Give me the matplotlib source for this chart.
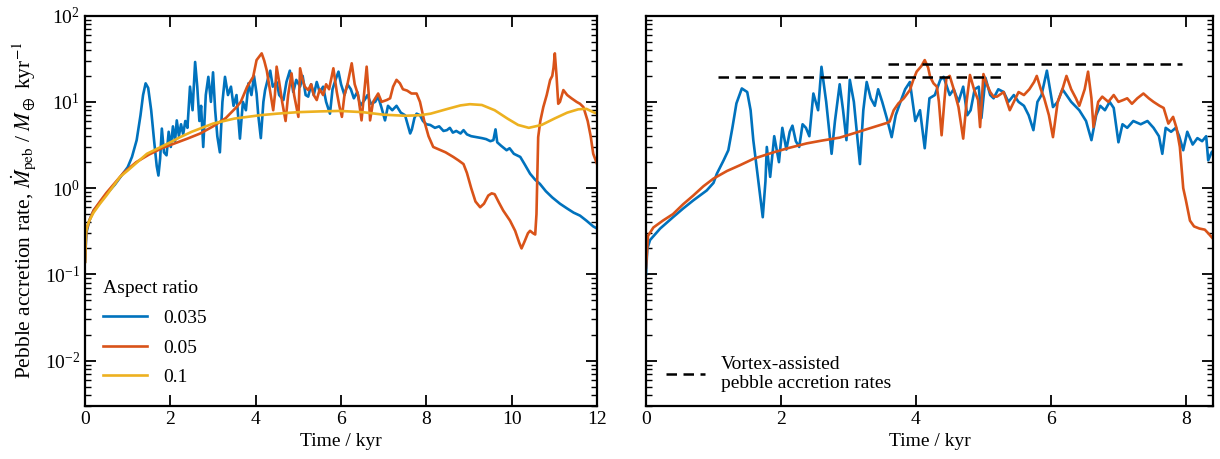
import numpy as np
import matplotlib
matplotlib.use("Agg")
import matplotlib.pyplot as plt
from matplotlib.ticker import LogLocator, NullLocator, NullFormatter

plt.rcParams['font.family'] = ['Liberation Serif', 'DejaVu Serif']
plt.rcParams['mathtext.fontset'] = 'stix'
plt.rcParams['font.size'] = 14

BLUE = "#0072BD"
ORANGE = "#D95319"
YELLOW = "#EDB120"

# ---- left panel: different aspect ratios ----
t_a035 = [0.0, 0.03, 0.1, 0.2, 0.35, 0.5, 0.7, 0.9, 1.0, 1.1, 1.21, 1.3, 1.36, 1.42, 1.48, 1.55,
          1.62, 1.68, 1.72, 1.76, 1.80, 1.85, 1.91, 1.96, 2.01, 2.06, 2.11, 2.15, 2.2, 2.25, 2.3,
          2.35, 2.4, 2.46, 2.52, 2.58, 2.63, 2.68, 2.72, 2.77, 2.83, 2.89, 2.95, 3.0, 3.05, 3.1,
          3.16, 3.22, 3.28, 3.35, 3.42, 3.48, 3.55, 3.63, 3.7, 3.77, 3.83, 3.9, 3.96, 4.02, 4.06,
          4.12, 4.18, 4.22, 4.28, 4.34, 4.4, 4.49, 4.55, 4.65, 4.72, 4.8, 4.88, 4.95, 5.04, 5.1,
          5.17, 5.23, 5.3, 5.36, 5.43, 5.5, 5.58, 5.65, 5.74, 5.8, 5.87, 5.94, 6.0, 6.08, 6.15,
          6.23, 6.3, 6.38, 6.45, 6.55, 6.62, 6.7, 6.8, 6.87, 6.95, 7.03, 7.1, 7.2, 7.3, 7.4, 7.5,
          7.56, 7.62, 7.66, 7.72, 7.77, 7.85, 7.92, 8.0, 8.09, 8.2, 8.3, 8.4, 8.48, 8.55, 8.62,
          8.7, 8.8, 8.87, 8.95, 9.05, 9.18, 9.3, 9.4, 9.5, 9.57, 9.62, 9.66, 9.75, 9.88, 9.95,
          10.05, 10.2, 10.3, 10.43, 10.55, 10.66, 10.8, 10.95, 11.13, 11.3, 11.45, 11.6, 11.75,
          11.91, 12.0]
m_a035 = [0.14, 0.3, 0.42, 0.55, 0.68, 0.85, 1.1, 1.5, 1.75, 2.3, 3.6, 7.0, 12, 16.4, 14.5, 8,
          3.5, 1.8, 1.4, 2.2, 4.9, 2.6, 2.4, 4.5, 3.0, 5.2, 3.5, 6.1, 4.0, 5.5, 4.2,
          6.0, 5.0, 15, 8, 29, 15, 6, 9, 3.0, 12, 19.5, 10, 22, 8, 4,
          2.6, 10, 19.5, 12, 15, 9, 12, 3.75, 10, 8, 16.4, 12, 20, 12.5, 7,
          3.8, 10, 13.7, 18, 23, 15, 17, 12, 10.5, 17, 23, 13, 18, 15, 20,
          12, 11.5, 16, 12, 17, 13, 15, 10, 7.3, 14, 18, 22.4, 16, 12, 16,
          14, 11, 13, 9, 10.5, 12, 9.5, 10, 11.5, 8.5, 6.1, 9, 8, 9, 7.5, 7,
          5.5, 4.3, 4.8, 6.5, 7.3, 7.0, 6.0, 5.5, 5.4, 5.0, 5.2, 4.6, 4.7, 5.0, 4.4,
          4.6, 4.3, 4.7, 4.2, 4.0, 3.9, 3.8, 3.7, 3.5, 3.6, 4.8, 3.4, 3.1, 2.75, 2.9,
          2.5, 2.3, 1.9, 1.47, 1.25, 1.12, 0.92, 0.78, 0.66, 0.58, 0.52, 0.48, 0.42,
          0.36, 0.34]

t_a05 = [0.0, 0.03, 0.1, 0.2, 0.35, 0.5, 0.7, 0.9, 1.2, 1.5, 1.8, 2.1, 2.4, 2.7, 3.0, 3.3, 3.55,
         3.65, 3.8, 3.94, 4.02, 4.14, 4.2, 4.26, 4.33, 4.41, 4.45, 4.49, 4.55, 4.62, 4.7, 4.76,
         4.84, 4.9, 5.0, 5.04, 5.1, 5.15, 5.23, 5.3, 5.36, 5.43, 5.5, 5.58, 5.65, 5.72, 5.82,
         5.9, 5.96, 6.02, 6.08, 6.15, 6.25, 6.32, 6.4, 6.48, 6.55, 6.6, 6.65, 6.68, 6.75, 6.87,
         6.95, 7.07, 7.15, 7.22, 7.3, 7.38, 7.45, 7.55, 7.65, 7.77, 7.85, 7.95, 8.05, 8.16, 8.3,
         8.45, 8.63, 8.75, 8.87, 8.95, 9.05, 9.15, 9.26, 9.35, 9.45, 9.53, 9.6, 9.7, 9.8, 9.96,
         10.08, 10.18, 10.23, 10.3, 10.38, 10.43, 10.5, 10.55, 10.58, 10.62, 10.67, 10.74,
         10.82, 10.9, 10.95, 10.98, 11.01, 11.05, 11.09, 11.13, 11.21, 11.3, 11.4, 11.52, 11.6,
         11.68, 11.78, 11.85, 11.91, 12.0]
m_a05 = [0.14, 0.32, 0.42, 0.55, 0.7, 0.88, 1.15, 1.5, 2.0, 2.45, 2.9, 3.3, 3.75, 4.3, 5.2, 6.5, 8.7,
         10, 15, 19.5, 30.5, 36.5, 30, 23, 14, 8.0, 12, 25.6, 17, 10, 6.0, 12,
         21.4, 12, 6.7, 24.5, 18, 15, 13.7, 16, 12, 10.5, 14, 12, 16, 14, 24.5,
         13, 9, 6.7, 12, 16, 28, 16, 12, 6.1, 14, 25.6, 12, 6.1, 10, 12.5,
         10, 10.5, 11, 15, 18, 16.4, 14, 13.5, 12.5, 12.5, 10, 6, 4, 3.0, 2.8,
         2.6, 2.3, 2.1, 1.9, 1.5, 1.0, 0.7, 0.6, 0.66, 0.82, 0.87, 0.85, 0.68, 0.55, 0.42,
         0.32, 0.23, 0.2, 0.24, 0.3, 0.32, 0.3, 0.29, 0.5, 3.9, 6, 8.7,
         12, 17.9, 20, 25, 36.5, 20, 9.5, 10, 13.7, 12, 11, 10, 9.5,
         8.7, 6, 4, 2.5, 1.9]

t_a1 = [0.0, 0.02, 0.05, 0.1, 0.2, 0.35, 0.5, 0.82, 1.0, 1.45, 2.0, 2.23, 2.5, 3.0, 3.5, 4.1,
        4.5, 5.0, 5.5, 5.98, 6.5, 7.0, 7.5, 7.85, 8.1, 8.5, 8.8, 9.02, 9.3, 9.6, 9.9, 10.15,
        10.4, 10.7, 11.0, 11.3, 11.56, 11.75, 11.91, 12.0]
m_a1 = [0.14, 0.3, 0.36, 0.42, 0.52, 0.66, 0.82, 1.35, 1.6, 2.5, 3.4, 3.9, 4.5, 5.6, 6.4, 7.0,
        7.3, 7.6, 7.75, 7.85, 7.6, 7.1, 6.9, 7.0, 7.3, 8.3, 9.1, 9.4, 9.2, 8.0, 6.4, 5.4,
        5.0, 5.4, 6.4, 7.5, 8.2, 8.3, 7.6, 7.3]

# ---- right panel: 0.035 vs 0.05 with vortex-assisted rates ----
t_r035 = [0.0, 0.02, 0.06, 0.21, 0.4, 0.55, 0.7, 0.9, 1.0, 1.05, 1.15, 1.22, 1.28, 1.34, 1.42,
          1.5, 1.55, 1.59, 1.65, 1.73, 1.77, 1.79, 1.84, 1.9, 1.97, 2.02, 2.08, 2.13, 2.17, 2.22,
          2.27, 2.32, 2.37, 2.42, 2.48, 2.55, 2.6, 2.67, 2.75, 2.8, 2.87, 2.92, 2.97, 3.02, 3.08,
          3.17, 3.22, 3.27, 3.33, 3.39, 3.44, 3.5, 3.57, 3.64, 3.7, 3.77, 3.84, 3.91, 3.99, 4.06,
          4.13, 4.2, 4.28, 4.36, 4.41, 4.5, 4.56, 4.63, 4.7, 4.76, 4.81, 4.87, 4.93, 4.97, 5.03,
          5.1, 5.15, 5.22, 5.3, 5.37, 5.45, 5.52, 5.6, 5.67, 5.74, 5.8, 5.86, 5.94, 6.03, 6.1,
          6.17, 6.23, 6.3, 6.42, 6.52, 6.6, 6.67, 6.73, 6.8, 6.87, 6.93, 7.0, 7.06, 7.13, 7.22,
          7.33, 7.43, 7.52, 7.6, 7.65, 7.7, 7.78, 7.85, 7.9, 7.96, 8.02, 8.1, 8.17, 8.24, 8.3,
          8.33, 8.38, 8.4]
m_r035 = [0.1, 0.2, 0.25, 0.34, 0.46, 0.58, 0.72, 0.94, 1.15, 1.47, 2.1, 2.75, 5, 9.6, 14.3,
          13, 8, 3.6, 1.5, 0.46, 1.2, 3.0, 1.35, 4, 2, 5, 2.8, 4.5, 5.3, 3.5,
          3.0, 5.5, 5, 4, 12.5, 8, 25.5, 10, 2.5, 6, 16, 8, 3.6, 18, 10,
          1.9, 8, 17, 11, 9, 14, 10, 6.4, 3.9, 7, 10, 14, 17, 6, 8,
          2.9, 11, 12, 18, 19.5, 12, 14, 10, 15, 7, 8, 14, 15, 6.5, 19,
          12, 11, 14, 13, 10, 12, 10, 9, 7, 4.7, 10, 12, 23, 8.7, 10,
          14, 12, 10, 8, 6, 3.6, 7, 9, 8, 10, 8.5, 3.4, 5.5, 5, 6,
          5.5, 6, 5, 4, 2.5, 5, 4.5, 5, 4, 2.75, 4.5, 3.2, 3.8, 3.5, 4,
          2.1, 2.6, 2.7]

t_r05 = [0.0, 0.03, 0.11, 0.25, 0.4, 0.55, 0.7, 0.85, 1.0, 1.2, 1.39, 1.6, 1.89, 2.1, 2.38, 2.6,
         2.87, 3.07, 3.3, 3.57, 3.61, 3.67, 3.74, 3.82, 3.91, 3.96, 4.01, 4.08, 4.13, 4.18, 4.21,
         4.26, 4.31, 4.34, 4.38, 4.42, 4.45, 4.5, 4.56, 4.63, 4.7, 4.75, 4.8, 4.86, 4.92, 4.95,
         5.0, 5.05, 5.1, 5.15, 5.2, 5.3, 5.39, 5.45, 5.52, 5.6, 5.68, 5.75, 5.79, 5.85, 5.9,
         5.97, 6.03, 6.1, 6.17, 6.23, 6.3, 6.37, 6.42, 6.5, 6.55, 6.6, 6.63, 6.7, 6.76, 6.85,
         6.93, 7.0, 7.07, 7.13, 7.2, 7.28, 7.37, 7.45, 7.52, 7.61, 7.67, 7.74, 7.81, 7.86, 7.91,
         7.96, 8.0, 8.06, 8.12, 8.2, 8.28, 8.33, 8.4]
m_r05 = [0.12, 0.28, 0.35, 0.42, 0.5, 0.65, 0.82, 1.05, 1.29, 1.58, 1.84, 2.2, 2.6, 2.9, 3.3, 3.55,
         3.85, 4.3, 4.9, 5.7, 5.9, 8, 9.6, 11, 13.7, 17.9, 22.4, 26, 30.5, 25, 19.5,
         16.4, 15, 10, 4.1, 10, 18.7, 20, 14, 8.7, 3.75, 10, 20.5, 14, 10.5, 5.1,
         21, 16, 13, 11.5, 11.5, 13, 8, 10, 13, 12, 14, 17, 20, 14, 11,
         7, 3.9, 10, 14, 20, 14, 11, 9, 14, 22.4, 11, 5.1, 10, 11.5, 10,
         12, 10, 10.5, 11, 9.5, 11, 12.5, 11, 10, 9, 8.5, 5.6, 6.7, 5, 3.0,
         1.0, 0.72, 0.42, 0.36, 0.34, 0.33, 0.3, 0.26]

# vortex-assisted rates (start, end, value)
vortex_t = [[1.06, 5.33], [3.58, 7.94]]
vortex_m = [19.5, 27.4]

fig = plt.figure(figsize=(12.2, 4.59), dpi=100)
ax1 = fig.add_axes([0.0697, 0.116, 0.4197, 0.850])
ax2 = fig.add_axes([0.5295, 0.116, 0.4647, 0.850])

lw = 1.9
ax1.plot(t_a035, m_a035, color=BLUE, lw=lw, label="0.035")
ax1.plot(t_a05, m_a05, color=ORANGE, lw=lw, label="0.05")
ax1.plot(t_a1, m_a1, color=YELLOW, lw=lw, label="0.1")

ax2.plot(t_r035, m_r035, color=BLUE, lw=lw)
ax2.plot(t_r05, m_r05, color=ORANGE, lw=lw)
for i, (ts, m) in enumerate(zip(vortex_t, vortex_m)):
    ax2.plot(ts, [m, m], color="black", lw=1.8, dashes=(4.2, 2.6),
             label="Vortex-assisted\npebble accretion rates" if i == 0 else None)

for ax, xmax in ((ax1, 12), (ax2, 8.4)):
    ax.set_yscale("log")
    ax.set_ylim(3e-3, 1e2)
    ax.set_xlim(0, xmax)
    ax.set_xticks(np.arange(0, xmax + 0.01, 2))
    ax.xaxis.set_minor_locator(NullLocator())
    ax.yaxis.set_major_locator(LogLocator(base=10, numticks=10))
    ax.yaxis.set_minor_locator(LogLocator(base=10, subs=np.arange(2, 10), numticks=10))
    ax.tick_params(which="both", direction="in", top=True, right=True, labelsize=14)
    ax.tick_params(which="major", length=8, width=1.3)
    ax.tick_params(which="minor", length=4, width=1.0)
    for s in ax.spines.values():
        s.set_linewidth(1.6)
    ax.set_xlabel("Time / kyr", fontsize=14)

ax2.yaxis.set_major_formatter(NullFormatter())
ax2.yaxis.set_minor_formatter(NullFormatter())

ax1.set_ylabel(r"Pebble accretion rate, $\dot{M}_{\rm peb}$ / $M_\oplus$ kyr$^{-1}$",
               fontsize=15.5, labelpad=4)

leg1 = ax1.legend(title="Aspect ratio", loc="lower left", frameon=False, fontsize=14,
                  title_fontsize=14, handlelength=2.3, labelspacing=0.62,
                  alignment="left", bbox_to_anchor=(0.0, 0.005))

ax2.legend(loc="lower left", frameon=False, fontsize=14, handlelength=2.0,
           bbox_to_anchor=(0.005, -0.01))

fig.savefig("out.png", dpi=100)
